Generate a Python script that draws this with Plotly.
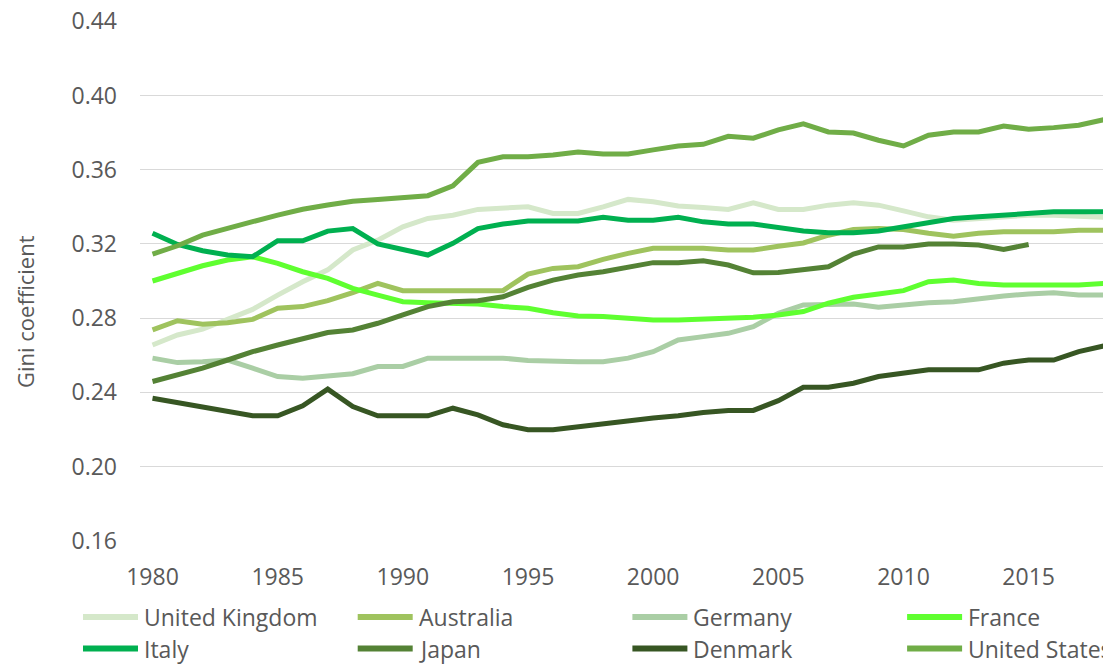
import plotly.graph_objects as go

years = list(range(1980, 2019))

united_kingdom = [0.2655, 0.2709, 0.2740, 0.2790, 0.2847, 0.2924, 0.2996, 0.3060, 0.3167, 0.3220,
                  0.3292, 0.3337, 0.3355, 0.3386, 0.3396, 0.3400, 0.3364, 0.3364, 0.3400, 0.3440,
                  0.3427, 0.3405, 0.3396, 0.3386, 0.3422, 0.3386, 0.3386, 0.3409, 0.3422, 0.3409,
                  0.3378, 0.3346, 0.3328, 0.3337, 0.3346, 0.3355, 0.3355, 0.3346, 0.3343]
australia = [0.2736, 0.2786, 0.2767, 0.2775, 0.2793, 0.2853, 0.2862, 0.2894, 0.2937, 0.2987,
             0.2948, 0.2948, 0.2948, 0.2948, 0.2948, 0.3037, 0.3068, 0.3077, 0.3117, 0.3149,
             0.3176, 0.3176, 0.3176, 0.3167, 0.3167, 0.3187, 0.3205, 0.3247, 0.3278, 0.3283,
             0.3278, 0.3257, 0.3242, 0.3257, 0.3265, 0.3265, 0.3265, 0.3274, 0.3274]
germany = [0.2584, 0.2560, 0.2565, 0.2574, 0.2530, 0.2485, 0.2476, 0.2490, 0.2500, 0.2539,
           0.2539, 0.2584, 0.2584, 0.2584, 0.2584, 0.2571, 0.2565, 0.2565, 0.2565, 0.2584,
           0.2619, 0.2682, 0.2700, 0.2718, 0.2754, 0.2826, 0.2871, 0.2876, 0.2876, 0.2858,
           0.2871, 0.2883, 0.2888, 0.2906, 0.2919, 0.2930, 0.2937, 0.2924, 0.2924]
france = [0.3000, 0.3044, 0.3082, 0.3113, 0.3131, 0.3095, 0.3050, 0.3014, 0.2960, 0.2924,
          0.2888, 0.2883, 0.2880, 0.2876, 0.2862, 0.2853, 0.2829, 0.2811, 0.2808, 0.2799,
          0.2790, 0.2790, 0.2795, 0.2795, 0.2804, 0.2817, 0.2835, 0.2880, 0.2912, 0.2930,
          0.2948, 0.2996, 0.3005, 0.2987, 0.2978, 0.2978, 0.2978, 0.2978, 0.2987]
italy = [0.3257, 0.3197, 0.3163, 0.3140, 0.3131, 0.3217, 0.3217, 0.3269, 0.3283, 0.3200,
         0.3170, 0.3140, 0.3203, 0.3283, 0.3307, 0.3324, 0.3324, 0.3324, 0.3343, 0.3328,
         0.3328, 0.3343, 0.3319, 0.3307, 0.3307, 0.3289, 0.3270, 0.3260, 0.3260, 0.3270,
         0.3292, 0.3319, 0.3337, 0.3346, 0.3355, 0.3364, 0.3373, 0.3373, 0.3373]
japan = [0.2458, 0.2494, 0.2530, 0.2574, 0.2619, 0.2655, 0.2686, 0.2722, 0.2736, 0.2772,
         0.2817, 0.2862, 0.2888, 0.2894, 0.2915, 0.2966, 0.3005, 0.3032, 0.3050, 0.3072,
         0.3099, 0.3099, 0.3109, 0.3086, 0.3044, 0.3046, 0.3059, 0.3077, 0.3145, 0.3184,
         0.3184, 0.3199, 0.3199, 0.3194, 0.3170, 0.3197, None, None, None]
denmark = [0.2368, 0.2345, 0.2318, 0.2296, 0.2273, 0.2273, 0.2327, 0.2417, 0.2323, 0.2273,
           0.2273, 0.2273, 0.2314, 0.2278, 0.2225, 0.2198, 0.2198, 0.2215, 0.2230, 0.2248,
           0.2261, 0.2273, 0.2291, 0.2302, 0.2302, 0.2355, 0.2427, 0.2427, 0.2449, 0.2485,
           0.2506, 0.2521, 0.2521, 0.2521, 0.2557, 0.2574, 0.2574, 0.2619, 0.2650]
united_states = [0.3145, 0.3190, 0.3247, 0.3287, 0.3320, 0.3355, 0.3387, 0.3410, 0.3430, 0.3440,
                 0.3450, 0.3460, 0.3513, 0.3640, 0.3670, 0.3670, 0.3680, 0.3696, 0.3685, 0.3685,
                 0.3707, 0.3728, 0.3737, 0.3780, 0.3770, 0.3815, 0.3847, 0.3804, 0.3798, 0.3759,
                 0.3728, 0.3786, 0.3804, 0.3804, 0.3836, 0.3818, 0.3827, 0.3840, 0.3870]

names = ["United Kingdom", "Australia", "Germany", "France",
         "Italy", "Japan", "Denmark", "United States"]
series = [united_kingdom, australia, germany, france, italy, japan, denmark, united_states]
colors = ["#D5E8CA", "#9FC35E", "#AACEA5", "#5FFF30",
          "#00B050", "#548235", "#375623", "#70AD47"]

x_ticks = [1980, 1985, 1990, 1995, 2000, 2005, 2010, 2015]
y_ticks = [0.16, 0.20, 0.24, 0.28, 0.32, 0.36, 0.40, 0.44]

FONT = "Open Sans"
TXT = "#595959"

fig = go.Figure()
for name, vals, col in zip(names, series, colors):
    fig.add_trace(go.Scatter(x=years, y=vals, name=name, mode="lines",
                             line=dict(color=col, width=5), connectgaps=False,
                             showlegend=False))

W, H = 1103, 665
L, R, T, B = 140, 0, 21, 124
pw, ph = W - L - R, H - T - B

def px_x(p):
    return (p - L) / pw

def px_y(p):
    return (H - B - p) / ph

shapes = []
annotations = []
# manual legend
for i, (name, col) in enumerate(zip(names, colors)):
    row, colidx = divmod(i, 4)
    x0 = 83 + 274.7 * colidx
    yc = 617 + 31.5 * row
    shapes.append(dict(type="line", xref="paper", yref="paper",
                       x0=px_x(x0), x1=px_x(x0 + 55), y0=px_y(yc), y1=px_y(yc),
                       line=dict(color=col, width=6)))
    annotations.append(dict(text=name, xref="paper", yref="paper",
                            x=px_x(x0 + 59), y=px_y(yc), xanchor="left", yanchor="middle",
                            showarrow=False, font=dict(family=FONT, size=23, color=TXT)))

annotations.append(dict(text="Gini coefficient", xref="paper", yref="paper",
                        x=px_x(25), y=px_y(312), textangle=-90, showarrow=False,
                        xanchor="center", yanchor="middle",
                        font=dict(family=FONT, size=22, color=TXT)))

fig.update_layout(
    width=W, height=H,
    margin=dict(l=L, r=R, t=T, b=B, pad=0),
    paper_bgcolor="white", plot_bgcolor="white",
    font=dict(family=FONT, size=23, color=TXT),
    showlegend=False,
    shapes=shapes,
    annotations=annotations,
    xaxis=dict(range=[1979.5, 2017.97], tickvals=x_ticks, showgrid=False,
               zeroline=False, showline=False, ticks="", ticklabelstandoff=20,
               tickfont=dict(family=FONT, size=23, color=TXT)),
    yaxis=dict(range=[0.1598, 0.4402], tickvals=y_ticks, tickformat=".2f",
               showgrid=True, gridcolor="#D9D9D9", gridwidth=1.3,
               zeroline=False, showline=False, ticks="", ticklabelstandoff=22,
               tickfont=dict(family=FONT, size=23, color=TXT)),
)

fig.write_html("out.html", config={"displayModeBar": False},
               post_script="document.body.style.margin='0';")
